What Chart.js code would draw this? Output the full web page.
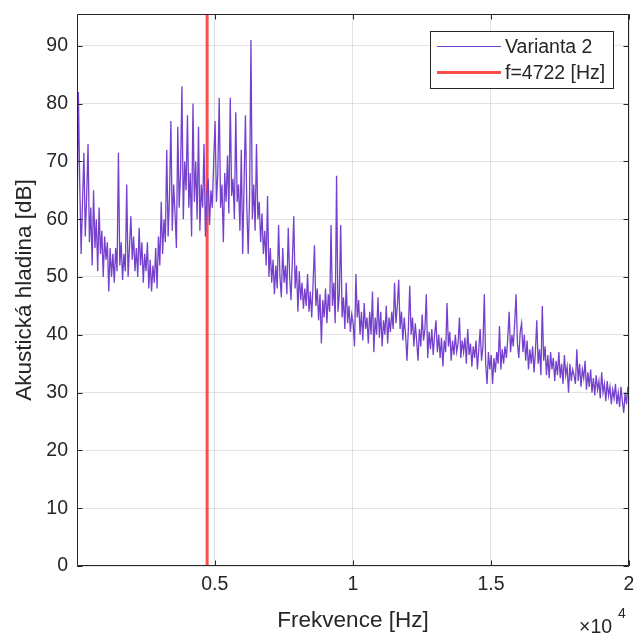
<!DOCTYPE html>
<html>
<head>
<meta charset="utf-8">
<script src="https://cdn.jsdelivr.net/npm/chart.js@4/dist/chart.umd.min.js"></script>
<style>
html,body{margin:0;padding:0;background:#fff;}
#wrap{width:633px;height:634px;}
</style>
</head>
<body>
<div id="wrap"><canvas id="c" width="633" height="634"></canvas></div>
<script>
// ---- data ----
const FREQ_START = 10;      // Hz, first sample
const FREQ_STEP = 50;       // Hz between samples
const MARK_FREQ = 4722;     // red marker line
const SERIES_LABEL = 'Varianta 2';
const MARK_LABEL = 'f=4722 [Hz]';
const X_TICKS = [5000, 10000, 15000, 20000];
const Y_TICKS = [0, 10, 20, 30, 40, 50, 60, 70, 80, 90];

const level0to2k = [58,82,66,54,63,71.5,57,64,73,56,62,52,65,55,60,51,62,54,58,50,57,53,56,47.5,55,50,54,49,55,51,71.5,52,56,49.5,54,51,66,50,55,60.5];
const level2to4k = [53,57,51,55,50,58.5,52,56,49,54,51,56,48,53,47.5,52,49,55,48,57,52,63,54,60,56,72,57,64,77,58,66,61,55,76,62,68,83,60,70,65];
const level4to6k = [78,62,68,57,80,63,70,60,76,58,66,62,73,57,64,67,59,65,62,70,77,63,68,81,62,66,56,68,63,71,61,81,64,67,60,78.5,63,66,58,72];
const level6to8k = [54,66,78,62,54,64,91,60,66,58,73,60,63,56,61,54,58,52,64,50,55,49,53,47,52,48,59,50,46.5,55,49,52,47,58.5,50,46,53,60.5,48,52];
const level8to10k = [44,51,46,49,44.5,48,45,50.5,44,47.5,43,49,55.5,45,48,42.5,47,38.5,46,43,48,42,47,44,59,45,49,42,67.5,44,47,59,43,46.5,41,49,42,45,40.5,43.5];
const level10to12k = [42,38,50.5,43,46,40,44,39,45.5,41,43,38.5,44,40,47.5,37,43,40,46.5,39.5,44,38,42.5,40,45,38.5,43,40.5,44,41,49,42,45,49.5,41,44,39,43,40,35.5];
const level12to14k = [41,48.5,40,43,38,42,39,35.5,41,38,43.5,39,41,47,36,40.5,37.5,41,36.5,40,42.5,37,40,36,39.5,34.5,39,37,45.5,38,40.5,35.5,39,36.5,40,37,38.5,43,36,39];
const level14to16k = [37,39.5,35,41,36.5,38.5,34.5,38,36,39,34,37.5,41,35.5,38,47,35,31.5,37,34,36.5,31.5,36,33.5,37,35,41.5,34,37.5,35,38,36,39.5,44,37,40,38,42,47,38.5];
const level16to18k = [36,40.5,42,37,40,35.5,39,34,37.5,35,38,33.5,37,42.5,35,37.5,33,45,35.5,38,33,36.5,32.5,37,34,36,32,35.5,33,37,32.5,35,31.5,36.5,33,34.5,30,35,32,34];
const level18to20k = [33,31.5,37.5,32,35,31,34,32.5,35.5,30.5,33.5,31,34,30,32.5,29.5,33,30.5,32,29,33.5,30,31.5,28.5,32,29.5,31,28,30.5,29,31.5,28,30,27.5,31,28.5,26.5,30,28,31,29];

const levels = [].concat(level0to2k, level2to4k, level4to6k, level6to8k, level8to10k,
  level10to12k, level12to14k, level14to16k, level16to18k, level18to20k);
const seriesPoints = levels.map((v, i) => ({x: FREQ_START + i * FREQ_STEP, y: v}));

// ---- style ----
const FONT = '"Liberation Sans", Arial, Helvetica, sans-serif';
const AX = '#262626';
const GRID = 'rgba(38,38,38,0.13)';
const PURPLE = '#7440cc';
const RED = 'rgba(255,32,32,0.8)';
const Y_MAX = 95.5;
const TICK_SIZE = 19.5;
const TITLE_SIZE = 22.5;

Chart.defaults.font.family = FONT;
Chart.defaults.color = AX;

const decor = {
  id: 'decor',
  afterDatasetsDraw(chart) {
    const {ctx, chartArea: a, scales: {x, y}} = chart;
    ctx.save();
    ctx.strokeStyle = AX;
    ctx.lineWidth = 1;
    // box
    ctx.beginPath();
    ctx.moveTo(a.left + 0.5, a.top + 0.5);
    ctx.lineTo(a.right - 0.5, a.top + 0.5);
    ctx.lineTo(a.right - 0.5, a.bottom - 0.5);
    ctx.lineTo(a.left + 0.5, a.bottom - 0.5);
    ctx.closePath();
    ctx.stroke();
    // inward ticks
    const tl = 5.5;
    ctx.beginPath();
    X_TICKS.forEach(t => {
      const px = Math.round(x.getPixelForValue(t)) + 0.5;
      ctx.moveTo(px, a.bottom); ctx.lineTo(px, a.bottom - tl);
      ctx.moveTo(px, a.top); ctx.lineTo(px, a.top + tl);
    });
    Y_TICKS.forEach(t => {
      const py = Math.round(y.getPixelForValue(t)) + 0.5;
      ctx.moveTo(a.left, py); ctx.lineTo(a.left + tl, py);
      ctx.moveTo(a.right, py); ctx.lineTo(a.right - tl, py);
    });
    ctx.stroke();
    // exponent label
    ctx.fillStyle = AX;
    ctx.textBaseline = 'alphabetic';
    ctx.textAlign = 'left';
    ctx.font = TICK_SIZE + 'px ' + FONT;
    ctx.fillText('\u00d710', 579, 633);
    ctx.font = '14px ' + FONT;
    ctx.fillText('4', 618, 618);
    // legend
    const lx = 430.5, ly = 31.5, lw = 183, lh = 57;
    ctx.fillStyle = '#fff';
    ctx.fillRect(lx, ly, lw, lh);
    ctx.strokeStyle = AX;
    ctx.lineWidth = 1;
    ctx.strokeRect(lx, ly, lw, lh);
    ctx.beginPath();
    ctx.strokeStyle = PURPLE; ctx.lineWidth = 1;
    ctx.moveTo(437, 46.5); ctx.lineTo(501, 46.5); ctx.stroke();
    ctx.beginPath();
    ctx.strokeStyle = RED; ctx.lineWidth = 3;
    ctx.moveTo(437, 72.5); ctx.lineTo(501, 72.5); ctx.stroke();
    ctx.fillStyle = AX;
    ctx.font = TICK_SIZE + 'px ' + FONT;
    ctx.textBaseline = 'middle';
    ctx.fillText(SERIES_LABEL, 505, 47.5);
    ctx.fillText(MARK_LABEL, 505, 73.5);
    ctx.restore();
  }
};

new Chart(document.getElementById('c'), {
  type: 'line',
  data: {
    datasets: [
      {label: SERIES_LABEL, data: seriesPoints, borderColor: PURPLE, borderWidth: 1.3,
       pointRadius: 0, tension: 0, fill: false},
      {label: MARK_LABEL, data: [{x: MARK_FREQ, y: 0}, {x: MARK_FREQ, y: Y_MAX}],
       borderColor: RED, borderWidth: 3, pointRadius: 0, fill: false}
    ]
  },
  options: {
    responsive: false,
    animation: false,
    events: [],
    layout: {padding: {top: 14, right: 4, left: 0, bottom: 0}},
    plugins: {legend: {display: false}, tooltip: {enabled: false}},
    scales: {
      x: {
        type: 'linear', min: FREQ_START, max: 20000,
        afterBuildTicks: s => { s.ticks = X_TICKS.map(v => ({value: v})); },
        afterFit: s => { s.height = 68; s.paddingLeft = 0; s.paddingRight = 0; },
        grid: {color: GRID, drawTicks: false},
        border: {display: false},
        ticks: {padding: 7, font: {size: TICK_SIZE}, color: AX, maxRotation: 0,
                callback: v => String(v / 10000)},
        title: {display: true, text: 'Frekvence [Hz]', font: {size: TITLE_SIZE}, color: AX,
                padding: {top: 0, bottom: 0}}
      },
      y: {
        min: 0, max: Y_MAX,
        afterBuildTicks: s => { s.ticks = Y_TICKS.map(v => ({value: v})); },
        afterFit: s => { s.width = 77; s.paddingTop = 0; s.paddingBottom = 0; },
        grid: {color: GRID, drawTicks: false},
        border: {display: false},
        ticks: {padding: 9, font: {size: TICK_SIZE}, color: AX},
        title: {display: true, text: 'Akustická hladina [dB]', font: {size: TITLE_SIZE}, color: AX,
                padding: {top: 11, bottom: 0}}
      }
    }
  },
  plugins: [decor]
});
</script>
</body>
</html>
